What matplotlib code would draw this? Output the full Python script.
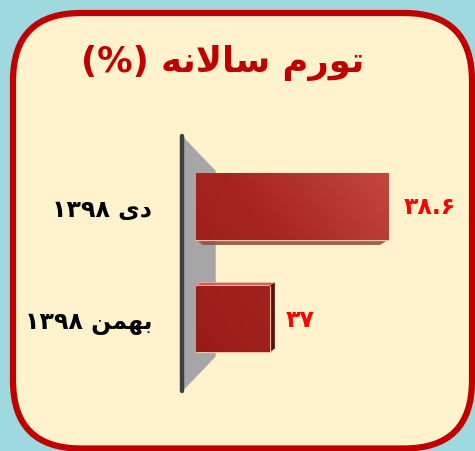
import re
import numpy as np
import matplotlib
matplotlib.use("Agg")
import matplotlib.pyplot as plt
from matplotlib.patches import FancyBboxPatch, Polygon
from matplotlib.colors import LinearSegmentedColormap
import matplotlib.transforms as mtransforms

# ---------------- data ----------------
title = "تورم سالانه (%)"
categories = ["دی ۱۳۹۸", "بهمن ۱۳۹۸"]
values = [38.6, 37]
x_min, x_max = 36, 39

# ---------------- minimal Arabic-script shaping ----------------
FORMS = {  # iso, fin, ini, med
    "ا": ("\uFE8D", "\uFE8E", None, None),
    "ب": ("\uFE8F", "\uFE90", "\uFE91", "\uFE92"),
    "ت": ("\uFE95", "\uFE96", "\uFE97", "\uFE98"),
    "د": ("\uFEA9", "\uFEAA", None, None),
    "ر": ("\uFEAD", "\uFEAE", None, None),
    "س": ("\uFEB1", "\uFEB2", "\uFEB3", "\uFEB4"),
    "ل": ("\uFEDD", "\uFEDE", "\uFEDF", "\uFEE0"),
    "م": ("\uFEE1", "\uFEE2", "\uFEE3", "\uFEE4"),
    "ن": ("\uFEE5", "\uFEE6", "\uFEE7", "\uFEE8"),
    "ه": ("\uFEE9", "\uFEEA", "\uFEEB", "\uFEEC"),
    "و": ("\uFEED", "\uFEEE", None, None),
    "ی": ("\uFBFC", "\uFBFD", "\uFBFE", "\uFBFF"),
}
MIRROR = {"(": ")", ")": "("}


def shape(s):
    out = []
    chars = list(s)
    i = 0
    prev_joins = False
    while i < len(chars):
        c = chars[i]
        if c not in FORMS:
            out.append(c)
            prev_joins = False
            i += 1
            continue
        if c == "ل" and i + 1 < len(chars) and chars[i + 1] == "ا":
            out.append("\uFEFC" if prev_joins else "\uFEFB")
            prev_joins = False
            i += 2
            continue
        iso, fin, ini, med = FORMS[c]
        nxt = chars[i + 1] if i + 1 < len(chars) else None
        next_ok = ini is not None and nxt in FORMS
        if prev_joins and next_ok:
            g = med
        elif prev_joins:
            g = fin
        elif next_ok:
            g = ini
        else:
            g = iso
        out.append(g)
        prev_joins = ini is not None
        i += 1
    return "".join(out)


def visual(s):
    s = shape(s)
    runs = re.findall(r"[\u06F0-\u06F90-9.]+|[^\u06F0-\u06F90-9.]+", s)
    res = []
    for r in reversed(runs):
        if re.fullmatch(r"[\u06F0-\u06F90-9.]+", r):
            res.append(r)
        else:
            res.append("".join(MIRROR.get(ch, ch) for ch in reversed(r)))
    return "".join(res)


def fa_num(v):
    t = ("%g" % v)
    return t.translate(str.maketrans("0123456789", "۰۱۲۳۴۵۶۷۸۹"))


# ---------------- figure ----------------
W, H, DPI = 475, 452, 100
fig = plt.figure(figsize=(W / DPI, H / DPI), dpi=DPI)
fig.patch.set_facecolor("#9DD9DE")

px = mtransforms.Affine2D().scale(1 / W, -1 / H).translate(0, 1) + fig.transFigure

box = FancyBboxPatch((13 + 68, 14 + 68), 472 - 13 - 136, 449.5 - 14 - 136,
                     boxstyle="round,pad=68", transform=px,
                     facecolor="#FFF2CC", edgecolor="#C00000", linewidth=4.5,
                     zorder=-5)
fig.patches.append(box)

fig.text(223 / W, 1 - 63 / H, visual(title), ha="center", va="center",
         fontsize=25.5, fontweight="bold", color="#C00000", family="DejaVu Sans")

# axes for bars
PXX = 73.85  # pixels per x unit
ax_left_px, ax_right_px = 196, 196 + PXX * (x_max - x_min)
ax_top_px, ax_bot_px = 140, 387.5
ax = fig.add_axes([ax_left_px / W, 1 - ax_bot_px / H,
                   (ax_right_px - ax_left_px) / W, (ax_bot_px - ax_top_px) / H])
ax.set_zorder(1)
ax.set_facecolor("none")
ax.set_xlim(x_min, x_max)
ax.set_ylim(1.6, -0.6)
for sp in ax.spines.values():
    sp.set_visible(False)
ax.set_xticks([])

ypos = np.arange(len(values))
bh = 0.595
dxp = 1 / PXX                      # one pixel in x data units
dyp = 2.2 / (ax_bot_px - ax_top_px)  # one pixel in y data units

# wall (axis plane)
wall = Polygon([(-0.062, 1.0125), (0.089, 0.871), (0.089, 0.121), (-0.062, -0.02)],
               closed=True, transform=ax.transAxes, clip_on=False,
               facecolor="#A6A6A6", edgecolor="none", zorder=1)
ax.add_patch(wall)
ax.plot([-0.062, -0.062], [-0.02, 1.0125], transform=ax.transAxes, clip_on=False,
        color="#3F3F3F", lw=3.2, solid_capstyle="round", zorder=2)

# one shared light gradient over the whole bar area (lighter towards upper right)
cmap = LinearSegmentedColormap.from_list("bar", ["#991B18", "#A6261F", "#C4463F"])
grad = np.add.outer(np.linspace(0.7, 0, 120), np.linspace(0, 1, 200))
grad = grad / grad.max()
g_top, g_bot = ypos[0] - bh / 2, ypos[-1] + bh / 2

bars = ax.barh(ypos, [v - x_min for v in values], left=x_min, height=bh,
               color="#A82624", edgecolor="#F4C0A4", linewidth=0.9, zorder=3)
vx = 37.5   # horizontal vanishing position
vy = 0.5    # vertical vanishing position
for b, v, y in zip(bars, values, ypos):
    top, bot = y - bh / 2, y + bh / 2
    if y < vy:
        face = Polygon([(x_min, bot), (v, bot), (v - 8 * dxp, bot + 5 * dyp),
                        (x_min + 7 * dxp, bot + 5 * dyp)], closed=True,
                       facecolor="#8A4A3C", edgecolor="none", alpha=0.85, zorder=2.5)
    else:
        face = Polygon([(x_min, top), (v, top), (v + 5 * dxp, top - 3 * dyp),
                        (x_min + 4 * dxp, top - 3 * dyp)], closed=True,
                       facecolor="#C0685A", edgecolor="#F0B8A0", linewidth=0.5, zorder=2.5)
    ax.add_patch(face)
    if v < vx:
        side = Polygon([(v, top), (v + 5 * dxp, top - 3 * dyp), (v + 5 * dxp, bot - 4 * dyp),
                        (v, bot)], closed=True, facecolor="#5E0C0C", edgecolor="none", zorder=2.6)
        ax.add_patch(side)
    im = ax.imshow(grad, cmap=cmap, aspect="auto", zorder=3.1,
                   extent=(x_min, max(values), g_bot, g_top), interpolation="bilinear")
    im.set_clip_path(b)
    ax.text(v, y, fa_num(v),
            transform=ax.transData + mtransforms.ScaledTranslation(16 / DPI, 0, fig.dpi_scale_trans),
            ha="left", va="center", fontsize=17, fontweight="bold", color="#FF0000",
            family="DejaVu Sans", zorder=5)
ax.set_xlim(x_min, x_max)
ax.set_ylim(1.6, -0.6)

ax.set_yticks(ypos)
ax.set_yticklabels([visual(c) for c in categories], fontsize=17, fontweight="bold",
                   family="DejaVu Sans", color="black")
ax.tick_params(axis="y", length=0, pad=31.5)

fig.savefig("out.png", dpi=DPI, facecolor=fig.get_facecolor())
